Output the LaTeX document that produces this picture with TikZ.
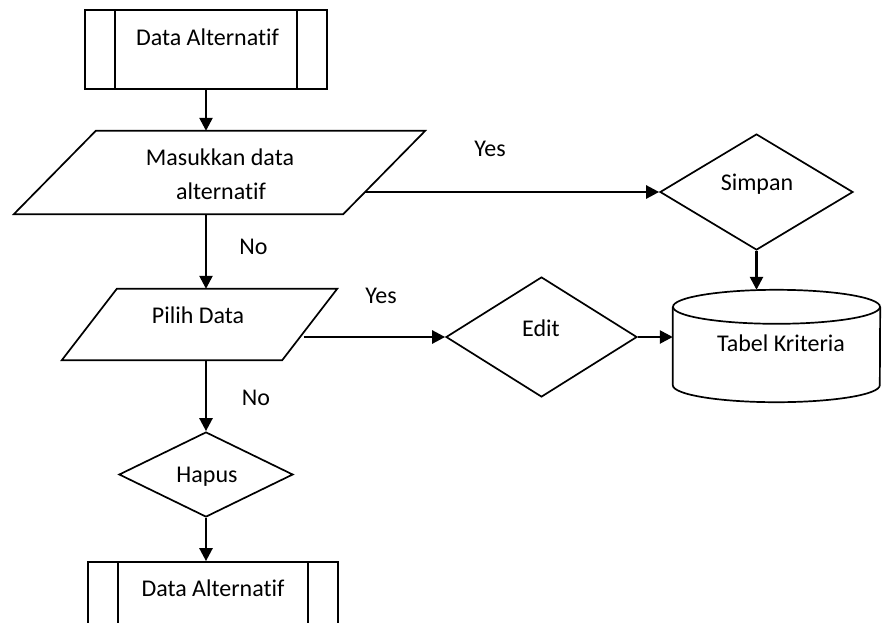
\documentclass[tikz,border=0pt]{standalone}
\usepackage{fontspec}
\setmainfont{Carlito}[Ligatures=NoCommon]
\usetikzlibrary{arrows.meta,shapes.geometric,calc}

\begin{document}
\begin{tikzpicture}[x=1pt,y=-1pt,
  font=\fontsize{24}{28}\selectfont,
  outline/.style={draw=black,line width=1.7pt},
  flow/.style={line width=2.5pt,-{Triangle[length=13pt,width=13pt]}},
  procbox/.style={outline,rectangle,inner sep=0pt,minimum width=#1,minimum height=79pt,
    path picture={
      \draw[line width=1.7pt] ([xshift=30pt]path picture bounding box.north west) -- ([xshift=30pt]path picture bounding box.south west);
      \draw[line width=1.7pt] ([xshift=-30pt]path picture bounding box.north east) -- ([xshift=-30pt]path picture bounding box.south east);
    }},
  area/.style={rectangle,inner sep=0pt},
  decision/.style={outline,diamond,inner sep=0pt},
  txt/.style={inner sep=0pt,anchor=base}
]
\useasboundingbox (0,0) rectangle (884,622);
\clip (0,0) rectangle (884,622);

% predefined process boxes
\node[procbox=242pt] (top) at (206,49.5) {};
\node[procbox=250pt] (bot) at (213,601.5) {};

% input parallelograms (invisible midline boxes, outlines drawn from their corners)
\node[area,minimum width=329pt,minimum height=83pt] (in) at (219.5,172.5) {};
\draw[outline] ([xshift=41pt]in.north west) -- ([xshift=41pt]in.north east)
  -- ([xshift=-41pt]in.south east) -- ([xshift=-41pt]in.south west) -- cycle;

\node[area,minimum width=220pt,minimum height=71pt] (pd) at (199.5,324.5) {};
\draw[outline] ([xshift=27.5pt]pd.north west) -- ([xshift=27.5pt]pd.north east)
  -- ([xshift=-27.5pt]pd.south east) -- ([xshift=-27.5pt]pd.south west) -- cycle;

% decisions
\node[decision,minimum width=193pt,minimum height=116pt] (simpan) at (756.5,192) {};
\node[decision,minimum width=191pt,minimum height=120pt] (edit) at (541.5,337) {};
\node[decision,minimum width=174pt,minimum height=85pt] (hapus) at (206,474.5) {};

% database cylinder
\node[area,minimum width=207pt,minimum height=112pt] (db) at (776.5,346) {};
\draw[outline] ($(db.north)+(0,17)$) ellipse [x radius=103.5, y radius=17];
\draw[outline] ($(db.north west)+(0,17)$) -- ($(db.south west)+(0,-17)$)
  arc[start angle=180,end angle=0,x radius=103.5,y radius=17]
  -- ($(db.north east)+(0,17)$);

% texts
\node[txt] (top-t) at (207.5,45) {Data Alternatif};
\node[txt] (in-t1) at (220,165) {Masukkan data};
\node[txt] (in-t2) at (221,199) {alternatif};
\node[txt] (pd-t) at (198,323) {Pilih Data};
\node[txt] (simpan-t) at (757,190) {Simpan};
\node[txt] (edit-t) at (541,336) {Edit};
\node[txt] (hapus-t) at (207,482) {Hapus};
\node[txt] (db-t) at (781,351.5) {Tabel Kriteria};
\node[txt] (bot-t) at (213,596) {Data Alternatif};

% branch labels
\node[txt] (yes1) at (490,156) {Yes};
\node[txt] (yes2) at (381,303) {Yes};
\node[txt] (no1) at (253.5,254) {No};
\node[txt] (no2) at (256,405) {No};

% connectors
\draw[flow] (top.south) -- (top.south |- in.north);
\draw[flow] (top.south |- in.south) -- (top.south |- pd.north);
\draw[flow] ($(in.east |- simpan.west)+(-19,0)$) -- (simpan.west);
\draw[flow] (simpan.south) -- (simpan.south |- db.north);
\draw[flow] ($(pd.east |- edit.west)+(-6,0)$) -- (edit.west);
\draw[flow] (edit.east) -- (edit.east -| db.west);
\draw[flow] (hapus.north |- pd.south) -- (hapus.north);
\draw[flow] (hapus.south) -- (hapus.south |- bot.north);
\end{tikzpicture}
\end{document}
